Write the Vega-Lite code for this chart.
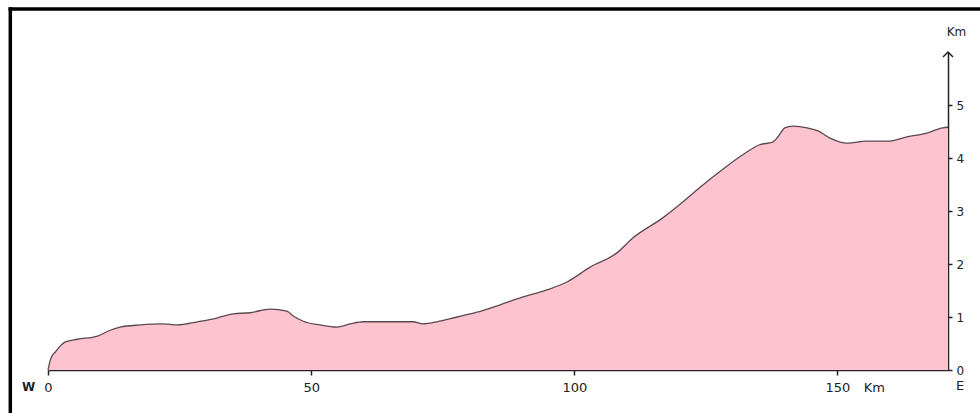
{
  "$schema": "https://vega.github.io/schema/vega-lite/v6.json",
  "width": 900,
  "height": 318,
  "autosize": {"type": "none"},
  "padding": {"left": 48, "top": 52, "right": 32, "bottom": 43},
  "background": "white",
  "config": {"view": {"stroke": null}},
  "data": {"values": [{}]},
  "datasets": {
    "profile": [
      {"km": 0, "elev": 0},
      {"km": 0.45, "elev": 0.19},
      {"km": 0.85, "elev": 0.28},
      {"km": 1.4, "elev": 0.34},
      {"km": 2.3, "elev": 0.45},
      {"km": 3.3, "elev": 0.53},
      {"km": 5.6, "elev": 0.58},
      {"km": 9.4, "elev": 0.64},
      {"km": 11.8, "elev": 0.75},
      {"km": 13.7, "elev": 0.81},
      {"km": 17.5, "elev": 0.85},
      {"km": 21.9, "elev": 0.87},
      {"km": 24.6, "elev": 0.85},
      {"km": 28.4, "elev": 0.91},
      {"km": 32.1, "elev": 0.98},
      {"km": 35.2, "elev": 1.06},
      {"km": 38.4, "elev": 1.08},
      {"km": 42.2, "elev": 1.15},
      {"km": 45.4, "elev": 1.11},
      {"km": 46.6, "elev": 1.02},
      {"km": 48.5, "elev": 0.92},
      {"km": 51.7, "elev": 0.85},
      {"km": 54.9, "elev": 0.81},
      {"km": 57.4, "elev": 0.87},
      {"km": 59.9, "elev": 0.91},
      {"km": 65.0, "elev": 0.91},
      {"km": 69.4, "elev": 0.91},
      {"km": 71.3, "elev": 0.87},
      {"km": 73.9, "elev": 0.91},
      {"km": 77.7, "elev": 1.0},
      {"km": 81.5, "elev": 1.09},
      {"km": 85.9, "elev": 1.23},
      {"km": 89.7, "elev": 1.36},
      {"km": 94.8, "elev": 1.51},
      {"km": 98.6, "elev": 1.66},
      {"km": 103.0, "elev": 1.94},
      {"km": 108.1, "elev": 2.21},
      {"km": 111.1, "elev": 2.49},
      {"km": 116.8, "elev": 2.87},
      {"km": 120.6, "elev": 3.17},
      {"km": 123.9, "elev": 3.45},
      {"km": 127.6, "elev": 3.74},
      {"km": 132.0, "elev": 4.06},
      {"km": 135.2, "elev": 4.25},
      {"km": 137.7, "elev": 4.3},
      {"km": 138.7, "elev": 4.4},
      {"km": 140.0, "elev": 4.57},
      {"km": 141.5, "elev": 4.6},
      {"km": 144.2, "elev": 4.57},
      {"km": 146.3, "elev": 4.51},
      {"km": 148.5, "elev": 4.38},
      {"km": 151.8, "elev": 4.28},
      {"km": 155.6, "elev": 4.32},
      {"km": 159.9, "elev": 4.32},
      {"km": 163.2, "elev": 4.4},
      {"km": 167.0, "elev": 4.47},
      {"km": 170.0, "elev": 4.57},
      {"km": 171.0, "elev": 4.58}
    ]
  },
  "layer": [
    {
      "data": {"name": "profile"},
      "mark": {"type": "area", "color": "#fdc3cf", "interpolate": "monotone"},
      "encoding": {
        "x": {
          "field": "km",
          "type": "quantitative",
          "scale": {"domain": [0, 171], "nice": false, "zero": false},
          "axis": {
            "values": [0, 50, 100, 150],
            "title": null,
            "grid": false,
            "domainColor": "#222222",
            "domainWidth": 1.5,
            "tickColor": "#222222",
            "tickSize": 5,
            "tickWidth": 1.5,
            "labelPadding": 6,
            "labelFont": "DejaVu Sans",
            "labelFontSize": 13,
            "labelColor": "#222222",
            "labelFlush": false
          }
        },
        "y": {
          "field": "elev",
          "type": "quantitative",
          "scale": {"domain": [0, 6], "nice": false},
          "axis": {
            "orient": "right",
            "values": [0, 1, 2, 3, 4, 5],
            "title": null,
            "grid": false,
            "domainColor": "#222222",
            "domainWidth": 1.5,
            "tickColor": "#222222",
            "tickSize": 4,
            "tickWidth": 1.5,
            "labelPadding": 4,
            "labelFont": "DejaVu Sans",
            "labelFontSize": 12,
            "labelColor": "#222222",
            "labelFlush": false
          }
        }
      }
    },
    {
      "data": {"name": "profile"},
      "mark": {"type": "line", "color": "#5a4a50", "strokeWidth": 1.3, "interpolate": "monotone"},
      "encoding": {
        "x": {"field": "km", "type": "quantitative"},
        "y": {"field": "elev", "type": "quantitative"}
      }
    },
    {
      "mark": {"type": "point", "shape": "M-1,1L0,0L1,1", "filled": false, "stroke": "#222222", "strokeWidth": 1.5, "size": 100, "opacity": 1},
      "encoding": {"x": {"datum": 171}, "y": {"datum": 6}}
    },
    {
      "mark": {"type": "text", "text": "Km", "font": "DejaVu Sans", "fontSize": 12, "color": "#222222"},
      "encoding": {"x": {"datum": 172.6}, "y": {"datum": 6.38}}
    },
    {
      "mark": {"type": "text", "text": "Km", "font": "DejaVu Sans", "fontSize": 13, "color": "#222222", "baseline": "top"},
      "encoding": {"x": {"datum": 157}, "y": {"datum": -0.23}}
    },
    {
      "mark": {"type": "text", "text": "W", "font": "DejaVu Sans", "fontSize": 12, "fontWeight": "bold", "color": "#222222"},
      "encoding": {"x": {"datum": -3.7}, "y": {"datum": -0.32}}
    },
    {
      "mark": {"type": "text", "text": "E", "font": "DejaVu Sans", "fontSize": 13, "color": "#222222"},
      "encoding": {"x": {"datum": 173.3}, "y": {"datum": -0.3}}
    },
    {
      "mark": {"type": "rule", "color": "black", "strokeWidth": 3.5, "strokeCap": "square"},
      "encoding": {"x": {"datum": -7.16}, "y": {"datum": -1.2}, "y2": {"datum": 6.81}}
    },
    {
      "mark": {"type": "rule", "color": "black", "strokeWidth": 3.5, "strokeCap": "square"},
      "encoding": {"x": {"datum": -7.16}, "x2": {"datum": 182}, "y": {"datum": 6.81}}
    }
  ]
}
